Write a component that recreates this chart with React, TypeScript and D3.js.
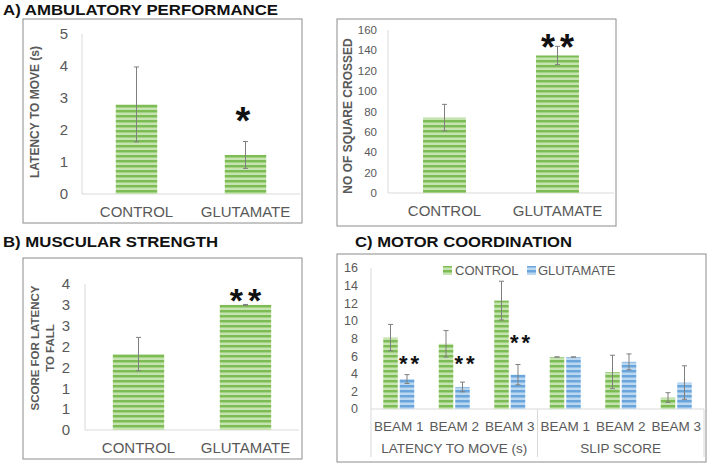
import React from 'react';
import * as d3 from 'd3';

const groupsA = ['CONTROL', 'GLUTAMATE'];
const latencyMean = [2.8, 1.22];
const latencyErr = [1.17, 0.42];
const latencyTicks = [0, 1, 2, 3, 4, 5];
const latencyTickLabels = ['0', '1', '2', '3', '4', '5'];
const latencyStars = ['', '*'];

const squaresMean = [74, 135];
const squaresErr = [13, 9];
const squaresTicks = [0, 20, 40, 60, 80, 100, 120, 140, 160];
const squaresTickLabels = ['0', '20', '40', '60', '80', '100', '120', '140', '160'];
const squaresStars = ['', '**'];

const strengthMean = [1.82, 3.0];
const strengthErr = [0.4, 0.01];
const strengthTicks = [0, 0.5, 1, 1.5, 2, 2.5, 3, 3.5];
const strengthTickLabels = ['0', '1', '1', '2', '2', '3', '3', '4'];
const strengthStars = ['', '**'];

const beamCats = ['BEAM 1', 'BEAM 2', 'BEAM 3', 'BEAM 1', 'BEAM 2', 'BEAM 3'];
const beamGroups = ['LATENCY TO MOVE (s)', 'SLIP SCORE'];
const seriesNames = ['CONTROL', 'GLUTAMATE'];
const coordControl = [8.1, 7.4, 12.3, 5.9, 4.2, 1.3];
const coordControlErr = [1.5, 1.5, 2.2, 0, 1.9, 0.55];
const coordGlut = [3.4, 2.5, 3.9, 5.9, 5.35, 3.0];
const coordGlutErr = [0.5, 0.55, 1.15, 0, 0.9, 1.9];
const coordStars = ['**', '**', '**', '', '', ''];
const coordStarLevel = [5.7, 5.7, 8.1, 0, 0, 0];
const coordTicks = [0, 2, 4, 6, 8, 10, 12, 14, 16];
const coordTickLabels = ['0', '2', '4', '6', '8', '10', '12', '14', '16'];

const FONT = '"Liberation Sans", Arial, sans-serif';
const GRAY = '#595959';
const AXIS = '#d9d9d9';
const BORDER = '#8c8c8c';
const ERR = '#7f7f7f';

// star centred vertically at y
function Star({ x, y, text, size, spacing }: { x: number; y: number; text: string; size: number; spacing: number }) {
  if (!text) return null;
  return (
    <text
      x={x + (text.length > 1 ? spacing / 2 : 0)}
      y={y + size * 0.57}
      textAnchor="middle"
      fontFamily={FONT}
      fontWeight="bold"
      fontSize={size}
      letterSpacing={spacing}
      fill="#111"
    >
      {text}
    </text>
  );
}

function ErrorBar({ x, y1, y2, cap }: { x: number; y1: number; y2: number; cap: number }) {
  return (
    <g stroke={ERR} strokeWidth={1}>
      <line x1={x} x2={x} y1={y1} y2={y2} />
      <line x1={x - cap} x2={x + cap} y1={y1} y2={y1} />
      <line x1={x - cap} x2={x + cap} y1={y2} y2={y2} />
    </g>
  );
}

type SimpleProps = {
  box: [number, number, number, number];
  left: number;
  right: number;
  top: number;
  bottom: number;
  yMax: number;
  ticks: number[];
  tickLabels: string[];
  tickFont: number;
  tickRight: number;
  means: number[];
  errs: number[];
  stars: string[];
  starSize: number;
  starOffset: number;
  barRatio: number;
  catBaseline: number;
  titleLines: string[];
  titleX: number[];
  titleY: number;
  titleFont: number;
};

function SimplePanel(p: SimpleProps) {
  const x = d3.scaleBand<string>().domain(groupsA).range([p.left, p.right]);
  const y = d3.scaleLinear().domain([0, p.yMax]).range([p.bottom, p.top]);
  const bw = x.bandwidth() * p.barRatio;
  return (
    <g>
      <rect x={p.box[0]} y={p.box[1]} width={p.box[2]} height={p.box[3]} fill="white" stroke={BORDER} strokeWidth={1} />
      <line x1={p.left} x2={p.left} y1={y(p.yMax)} y2={y(0)} stroke={AXIS} />
      <line x1={p.left} x2={p.right} y1={y(0)} y2={y(0)} stroke={AXIS} />
      {p.ticks.map((t, i) => (
        <text key={i} x={p.tickRight} y={y(t)} dy="0.35em" textAnchor="end" fontFamily={FONT} fontSize={p.tickFont} fill={GRAY}>
          {p.tickLabels[i]}
        </text>
      ))}
      {groupsA.map((g, i) => {
        const cx = (x(g) as number) + x.bandwidth() / 2;
        const v = p.means[i];
        const e = p.errs[i];
        return (
          <g key={g}>
            <rect x={cx - bw / 2} y={y(v)} width={bw} height={y(0) - y(v)} fill="url(#greenStripes)" />
            <ErrorBar x={cx} y1={y(v + e)} y2={y(v - e)} cap={2.5} />
            <Star x={cx} y={y(v + e) - p.starOffset} text={p.stars[i]} size={p.starSize} spacing={5} />
            <text x={cx} y={p.catBaseline} textAnchor="middle" fontFamily={FONT} fontSize={15} fill={GRAY}>
              {g}
            </text>
          </g>
        );
      })}
      {p.titleLines.map((t, i) => (
        <text
          key={i}
          transform={`translate(${p.titleX[i]},${p.titleY}) rotate(-90)`}
          textAnchor="middle"
          dy="0.35em"
          fontFamily={FONT}
          fontWeight="bold"
          fontSize={p.titleFont}
          fill={GRAY}
        >
          {t}
        </text>
      ))}
    </g>
  );
}

function CoordPanel() {
  const left = 371;
  const right = 704;
  const x = d3.scaleBand<number>().domain(d3.range(beamCats.length)).range([left, right]);
  const sub = d3.scaleBand<string>().domain(seriesNames).range([-15.5, 15.5]).paddingInner(0.12);
  const y = d3.scaleLinear().domain([0, 16]).range([409, 268]);
  const bw = sub.bandwidth();
  const series = [
    { name: seriesNames[0], v: coordControl, e: coordControlErr, fill: 'url(#greenStripes)' },
    { name: seriesNames[1], v: coordGlut, e: coordGlutErr, fill: 'url(#blueStripes)' },
  ];
  const groupEdges = [left, x(3) as number, right];
  return (
    <g>
      <rect x={337} y={254} width={369} height={208} fill="white" stroke={BORDER} strokeWidth={1} />
      <line x1={left} x2={left} y1={y(16)} y2={457} stroke={AXIS} />
      <line x1={left} x2={right} y1={y(0)} y2={y(0)} stroke={AXIS} />
      {groupEdges.slice(1).map((gx, i) => (
        <line key={i} x1={gx} x2={gx} y1={y(0)} y2={457} stroke={AXIS} />
      ))}
      {coordTicks.map((t, i) => (
        <text key={i} x={358} y={y(t)} dy="0.35em" textAnchor="end" fontFamily={FONT} fontSize={12.5} fill={GRAY}>
          {coordTickLabels[i]}
        </text>
      ))}
      {beamCats.map((c, i) => {
        const cx = (x(i) as number) + x.bandwidth() / 2;
        return (
          <g key={i}>
            {series.map((s) => {
              const bx = cx + (sub(s.name) as number);
              const v = s.v[i];
              const e = s.e[i];
              return (
                <g key={s.name}>
                  <rect x={bx} y={y(v)} width={bw} height={y(0) - y(v)} fill={s.fill} />
                  <ErrorBar x={bx + bw / 2} y1={y(v + e)} y2={y(v - e)} cap={2.5} />
                </g>
              );
            })}
            <text x={cx} y={431} textAnchor="middle" fontFamily={FONT} fontSize={13.5} fill={GRAY}>
              {c}
            </text>
          </g>
        );
      })}
      {coordStars.map((s, i) => {
        const cx = (x(i) as number) + x.bandwidth() / 2;
        const gx = cx + (sub(seriesNames[1]) as number) + bw / 2 + 2;
        return <Star key={i} x={gx} y={y(coordStarLevel[i])} text={s} size={22} spacing={3} />;
      })}
      {beamGroups.map((g, i) => (
        <text key={g} x={(groupEdges[i] + groupEdges[i + 1]) / 2} y={453} textAnchor="middle" fontFamily={FONT} fontSize={13.5} fill={GRAY}>
          {g}
        </text>
      ))}
      <g fontFamily={FONT} fontSize={13} fill={GRAY}>
        <rect x={443} y={266} width={9} height={9} fill="url(#greenStripes)" />
        <text x={455} y={275}>{seriesNames[0]}</text>
        <rect x={527} y={266} width={9} height={9} fill="url(#blueStripes)" />
        <text x={538} y={275}>{seriesNames[1]}</text>
      </g>
    </g>
  );
}

export default function App() {
  return (
    <svg width={708} height={466} style={{ position: 'absolute', left: 0, top: 0, background: 'white' }}>
      <defs>
        <pattern id="greenStripes" patternUnits="userSpaceOnUse" width={10} height={5}>
          <rect x={0} y={0} width={10} height={2} fill="#7dbb55" />
          <rect x={0} y={2} width={10} height={1} fill="#a3d284" />
          <rect x={0} y={3} width={10} height={2} fill="#c6e4b2" />
        </pattern>
        <pattern id="blueStripes" patternUnits="userSpaceOnUse" width={10} height={5}>
          <rect x={0} y={0} width={10} height={2} fill="#6aa5dc" />
          <rect x={0} y={2} width={10} height={1} fill="#94c0e8" />
          <rect x={0} y={3} width={10} height={2} fill="#bcd8f1" />
        </pattern>
      </defs>
      <rect width={708} height={466} fill="white" />
      <g fontFamily={FONT} fontWeight="bold" fontSize={15.5} fill="#111">
        <text x={3} y={15} textLength={275} lengthAdjust="spacingAndGlyphs">A) AMBULATORY PERFORMANCE</text>
        <text x={3} y={247} textLength={215} lengthAdjust="spacingAndGlyphs">B) MUSCULAR STRENGTH</text>
        <text x={355} y={247} textLength={217} lengthAdjust="spacingAndGlyphs">C) MOTOR COORDINATION</text>
      </g>
      <SimplePanel
        box={[23, 19, 279, 204]}
        left={82}
        right={300}
        top={34}
        bottom={194}
        yMax={5}
        ticks={latencyTicks}
        tickLabels={latencyTickLabels}
        tickFont={15}
        tickRight={68}
        means={latencyMean}
        errs={latencyErr}
        stars={latencyStars}
        starSize={38}
        starOffset={29}
        barRatio={0.38}
        catBaseline={217}
        titleLines={['LATENCY TO MOVE (s)']}
        titleX={[35]}
        titleY={112}
        titleFont={12}
      />
      <SimplePanel
        box={[337, 19, 279, 207]}
        left={388}
        right={614}
        top={30}
        bottom={193}
        yMax={160}
        ticks={squaresTicks}
        tickLabels={squaresTickLabels}
        tickFont={11.5}
        tickRight={377}
        means={squaresMean}
        errs={squaresErr}
        stars={squaresStars}
        starSize={36}
        starOffset={7}
        barRatio={0.38}
        catBaseline={216}
        titleLines={['NO OF SQUARE CROSSED']}
        titleX={[348]}
        titleY={116}
        titleFont={12}
      />
      <SimplePanel
        box={[23, 258, 279, 201]}
        left={85}
        right={299}
        top={284}
        bottom={430}
        yMax={3.5}
        ticks={strengthTicks}
        tickLabels={strengthTickLabels}
        tickFont={15}
        tickRight={70}
        means={strengthMean}
        errs={strengthErr}
        stars={strengthStars}
        starSize={34}
        starOffset={12}
        barRatio={0.48}
        catBaseline={453}
        titleLines={['SCORE FOR LATENCY', 'TO FALL']}
        titleX={[35, 50]}
        titleY={348}
        titleFont={11.5}
      />
      <CoordPanel />
    </svg>
  );
}
